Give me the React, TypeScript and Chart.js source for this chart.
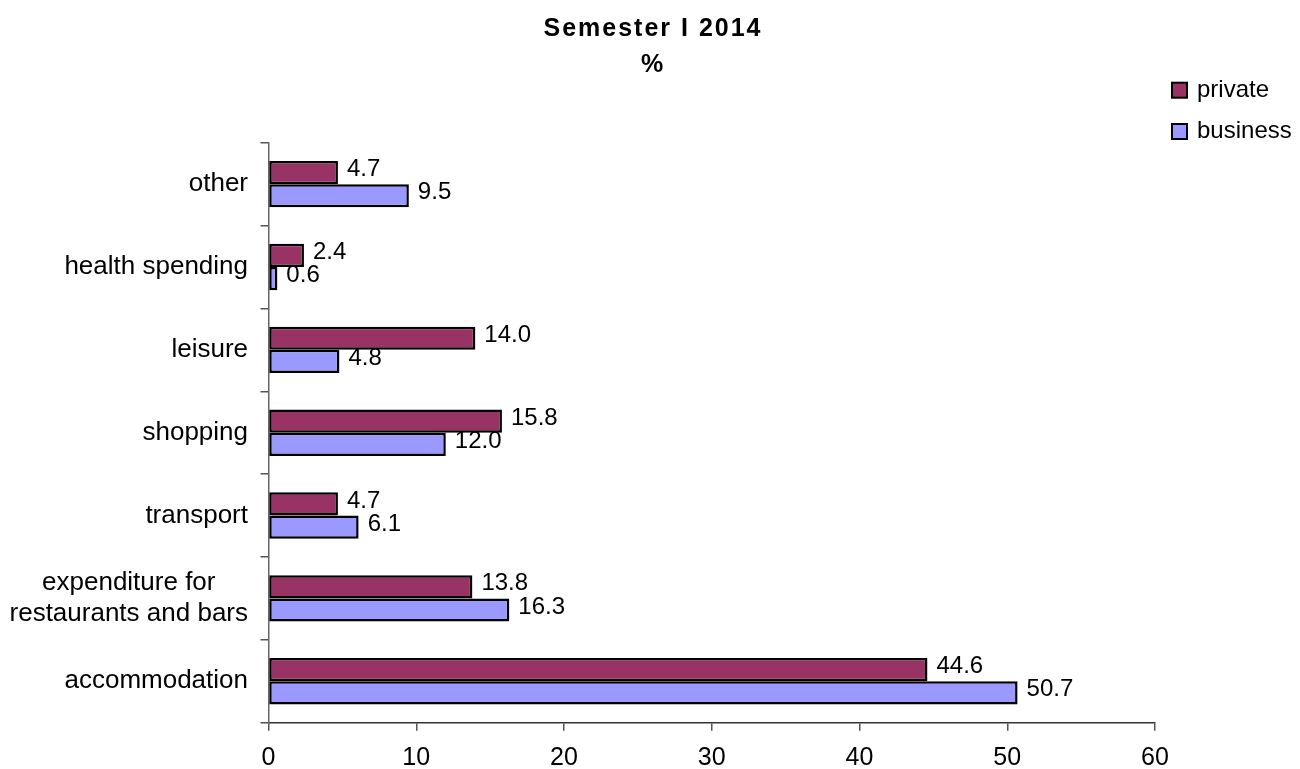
import { useEffect, useRef } from "react";
import { Chart, registerables } from "chart.js";

Chart.register(...registerables);

const categories: (string | string[])[] = [
  "other",
  "health spending",
  "leisure",
  "shopping",
  "transport",
  ["expenditure for", "restaurants and bars"],
  "accommodation",
];
const privateValues = [4.7, 2.4, 14.0, 15.8, 4.7, 13.8, 44.6];
const businessValues = [9.5, 0.6, 4.8, 12.0, 6.1, 16.3, 50.7];
const seriesNames = ["private", "business"];
const seriesColors = ["#993366", "#9999FF"];
const titleLines = ["Semester I 2014", "%"];
const xMin = 0;
const xMax = 60;
const xStep = 10;

const FONT = '"Liberation Sans", Arial, sans-serif';

const customPlugin = {
  id: "customDraw",
  afterDatasetsDraw(chart: any) {
    const ctx = chart.ctx;
    ctx.save();
    ctx.fillStyle = "#000";
    ctx.font = `24px ${FONT}`;
    ctx.textAlign = "left";
    ctx.textBaseline = "middle";
    chart.data.datasets.forEach((ds: any, di: number) => {
      const meta = chart.getDatasetMeta(di);
      meta.data.forEach((bar: any, i: number) => {
        const v = ds.data[i];
        ctx.fillText(v.toFixed(1), bar.x + 9, bar.y - 3);
      });
    });
    ctx.restore();
  },
  afterDraw(chart: any) {
    const ctx = chart.ctx;
    const area = chart.chartArea;
    ctx.save();
    ctx.fillStyle = "#000";
    // title
    ctx.font = `bold 25px ${FONT}`;
    ctx.textAlign = "center";
    ctx.textBaseline = "middle";
    (ctx as any).letterSpacing = "2px";
    ctx.fillText(titleLines[0], chart.width / 2 + 3, 21);
    (ctx as any).letterSpacing = "0px";
    ctx.fillText(titleLines[1], chart.width / 2 + 2, 57);

    // category labels
    const yScale = chart.scales.y;
    ctx.font = `26px ${FONT}`;
    categories.forEach((lab, i) => {
      const yc = yScale.getPixelForValue(i);
      const lines = Array.isArray(lab) ? lab : [lab];
      const widths = lines.map((l) => ctx.measureText(l).width);
      const maxW = Math.max(...widths);
      const right = area.left - 20.5;
      const lh = 31;
      lines.forEach((l, j) => {
        const y = yc + (j - (lines.length - 1) / 2) * lh;
        ctx.textAlign = "center";
        ctx.fillText(l, right - maxW / 2, y);
      });
    });

    // legend
    ctx.font = `24px ${FONT}`;
    ctx.textAlign = "left";
    ctx.textBaseline = "middle";
    const lx = 1164;
    const ly = [74.7, 116];
    seriesNames.forEach((name, i) => {
      ctx.fillStyle = seriesColors[i];
      ctx.fillRect(lx, ly[i], 15, 15);
      ctx.strokeStyle = "#000";
      ctx.lineWidth = 2;
      ctx.strokeRect(lx, ly[i], 15, 15);
      ctx.fillStyle = "#000";
      ctx.fillText(name, lx + 25, ly[i] + 7.5);
    });
    ctx.restore();
  },
};

export default function App() {
  const canvasRef = useRef<HTMLCanvasElement | null>(null);

  useEffect(() => {
    if (!canvasRef.current) return;
    const chart = new Chart(canvasRef.current, {
      type: "bar",
      data: {
        labels: categories.map((c) => (Array.isArray(c) ? c.join(" ") : c)),
        datasets: [
          {
            label: seriesNames[0],
            data: privateValues,
            backgroundColor: seriesColors[0],
            borderColor: "#000",
            borderWidth: 2.5,
            borderSkipped: false,
            categoryPercentage: 0.56,
            barPercentage: 1,
          },
          {
            label: seriesNames[1],
            data: businessValues,
            backgroundColor: seriesColors[1],
            borderColor: "#000",
            borderWidth: 2.5,
            borderSkipped: false,
            categoryPercentage: 0.56,
            barPercentage: 1,
          },
        ],
      },
      options: {
        indexAxis: "y",
        responsive: false,
        animation: false,
        layout: { padding: { left: 0, right: 137, top: 134.7, bottom: 0 } },
        plugins: {
          legend: { display: false },
          title: { display: false },
          tooltip: { enabled: false },
        },
        scales: {
          x: {
            min: xMin,
            max: xMax,
            ticks: {
              stepSize: xStep,
              color: "#000",
              font: { family: FONT, size: 25 },
              padding: 12,
            },
            grid: {
              drawOnChartArea: false,
              drawTicks: true,
              tickLength: 8,
              color: "#555",
              lineWidth: 1.5,
            },
            border: { display: true, color: "#333", width: 1.5 },
            afterFit(scale: any) {
              scale.height = 46.3;
            },
          },
          y: {
            ticks: { display: false },
            grid: {
              drawOnChartArea: false,
              drawTicks: true,
              tickLength: 8,
              color: "#555",
              lineWidth: 1.5,
              offset: true,
            },
            border: { display: true, color: "#666", width: 1.5 },
            afterFit(scale: any) {
              scale.width = 260.5;
            },
          },
        },
      },
      plugins: [customPlugin],
    });
    return () => chart.destroy();
  }, []);

  return <canvas ref={canvasRef} width={1284} height={761} style={{ display: "block" }} />;
}
